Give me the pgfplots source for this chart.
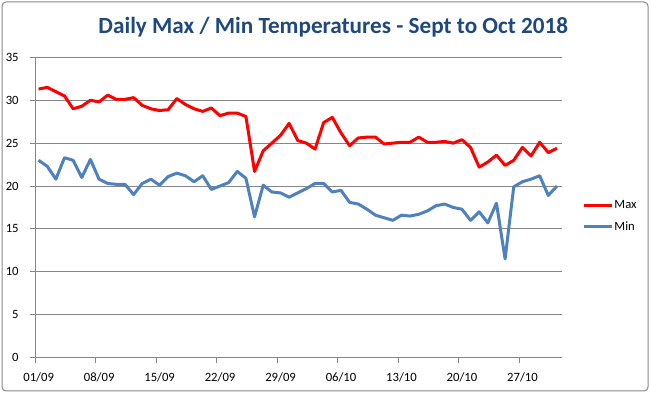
\documentclass[border=0pt]{standalone}
\usepackage{pgfplots}
\pgfplotsset{compat=1.18}
\usepackage{pgfplotstable}
\usepackage{fontspec}
\setmainfont{Carlito}
\definecolor{maxred}{HTML}{FF0000}
\definecolor{minblue}{HTML}{4F81BD}
\definecolor{titleblue}{HTML}{1F497D}
\definecolor{gridgray}{HTML}{868686}
\definecolor{bordergray}{HTML}{898989}
\pgfplotstableread{
day max min
0 31.3 23.0
1 31.5 22.3
2 31.0 20.8
3 30.5 23.3
4 29.0 23.0
5 29.3 21.0
6 30.0 23.1
7 29.8 20.8
8 30.6 20.3
9 30.1 20.2
10 30.1 20.2
11 30.3 19.0
12 29.4 20.3
13 29.0 20.8
14 28.8 20.1
15 28.9 21.1
16 30.2 21.5
17 29.5 21.2
18 29.0 20.5
19 28.7 21.2
20 29.1 19.6
21 28.2 20.0
22 28.5 20.4
23 28.5 21.7
24 28.1 20.9
25 21.7 16.4
26 24.1 20.1
27 25.0 19.3
28 25.9 19.2
29 27.3 18.7
30 25.3 19.2
31 25.0 19.7
32 24.3 20.3
33 27.4 20.3
34 28.0 19.3
35 26.2 19.5
36 24.7 18.1
37 25.6 17.9
38 25.7 17.3
39 25.7 16.6
40 24.9 16.3
41 25.0 16.0
42 25.1 16.6
43 25.1 16.5
44 25.7 16.7
45 25.1 17.1
46 25.1 17.7
47 25.2 17.9
48 25.0 17.5
49 25.4 17.3
50 24.5 16.0
51 22.2 17.0
52 22.8 15.7
53 23.6 18.0
54 22.4 11.5
55 23.0 19.9
56 24.5 20.5
57 23.5 20.8
58 25.1 21.2
59 23.9 18.9
60 24.4 20.0
}\temps
\begin{document}
\begin{tikzpicture}
\useasboundingbox (0,0) rectangle (488.25pt,294.75pt);
\draw[bordergray, line width=0.75pt, rounded corners=3pt] (1.5pt,1.5pt) rectangle (486pt,293.25pt);
\node[font=\bfseries\fontsize{17.4}{20}\selectfont, text=titleblue] at (250pt,274.5pt) {Daily Max / Min Temperatures - Sept to Oct 2018};
\begin{axis}[
  at={(26.5pt,26.55pt)}, anchor=south west,
  scale only axis, width=395.25pt, height=225.2pt,
  xmin=-0.375, xmax=60.625, ymin=0, ymax=35,
  xtick={-0.375,6.625,13.625,20.625,27.625,34.625,41.625,48.625,55.625},
  xticklabels={01/09,08/09,15/09,22/09,29/09,06/10,13/10,20/10,27/10},
  ytick={0,5,10,15,20,25,30,35},
  axis x line*=bottom, axis y line*=left,
  axis line style={gridgray, line width=0.75pt, -},
  ymajorgrids, grid style={gridgray, line width=0.75pt},
  tick style={gridgray, line width=0.75pt},
  tick align=outside, major tick length=4pt,
  /pgf/number format/assume math mode=true,
  ticklabel style={font=\fontsize{9.5}{11}\selectfont, text=black},
  yticklabel style={xshift=-5pt},
  xticklabel style={yshift=-4pt, xshift=2.5pt},
  legend style={at={(axis description cs:1.037,0.47)}, anchor=west, draw=none, fill=none,
    font=\fontsize{9.5}{11}\selectfont, inner sep=0pt, row sep=6pt,
    nodes={inner sep=1pt}},
  legend cell align=left,
  legend image code/.code={\draw[#1] (0pt,0pt) -- (21pt,0pt);},
]
\addplot[maxred, line width=2.25pt, line join=round] table[x=day, y=max] {\temps};
\addlegendentry{Max}
\addplot[minblue, line width=2.25pt, line join=round] table[x=day, y=min] {\temps};
\addlegendentry{Min}
\end{axis}
\end{tikzpicture}
\end{document}
